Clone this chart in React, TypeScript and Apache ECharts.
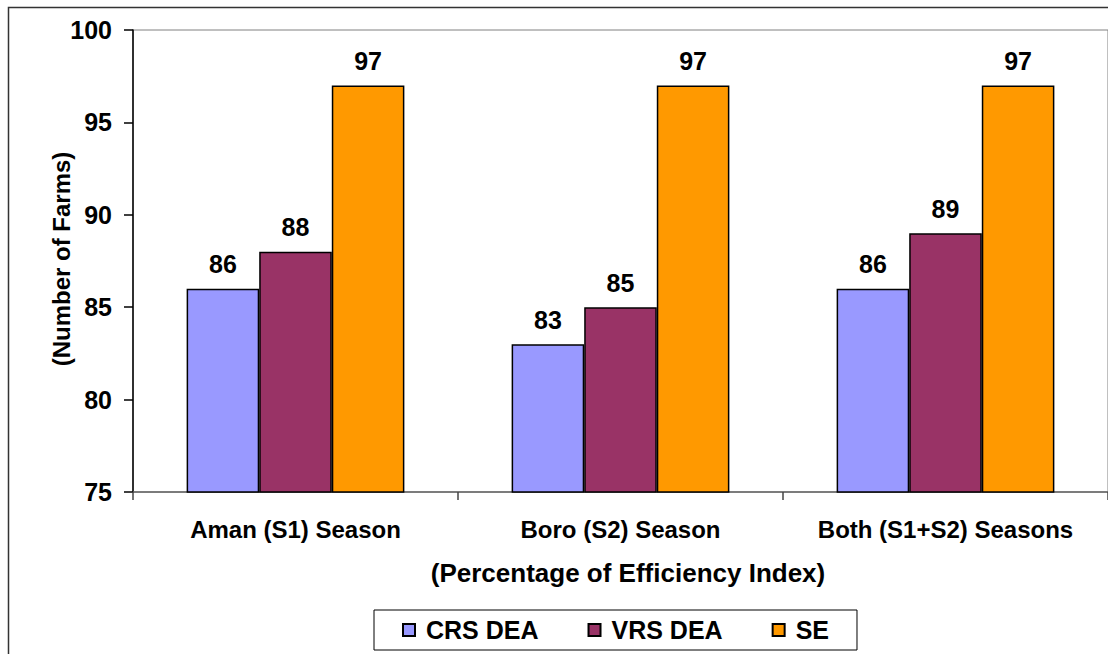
import React, { useEffect, useRef } from "react";
import * as echarts from "echarts";

const categories = ["Aman (S1) Season", "Boro (S2) Season", "Both (S1+S2) Seasons"];
const crsDea = [86, 83, 86];
const vrsDea = [88, 85, 89];
const se = [97, 97, 97];
const seriesNames = ["CRS DEA", "VRS DEA", "SE"];
const seriesColors = ["#9999FF", "#993366", "#FF9900"];
const yTitle = "(Number of Farms)";
const xTitle = "(Percentage of Efficiency Index)";

const FONT = '"Liberation Sans", Arial, Helvetica, sans-serif';

export default function App() {
  const ref = useRef<HTMLDivElement>(null);
  useEffect(() => {
    if (!ref.current) return;
    const chart = echarts.init(ref.current, null, { renderer: "svg" });
    const data = [crsDea, vrsDea, se];
    chart.setOption({
      animation: false,
      backgroundColor: "#fff",
      textStyle: { fontFamily: FONT },
      grid: {
        left: 133,
        top: 30,
        right: -2,
        bottom: 162,
        show: true,
        borderColor: "#808080",
        borderWidth: 1,
        backgroundColor: "transparent",
      },
      xAxis: {
        type: "category",
        data: categories,
        axisLine: { show: true, lineStyle: { color: "#666", width: 1.5 } },
        axisTick: { show: true, alignWithLabel: false, length: 8, lineStyle: { color: "#444", width: 1.5 } },
        axisLabel: {
          interval: 0,
          fontFamily: FONT,
          fontWeight: "bold",
          fontSize: 24,
          color: "#000",
          margin: 25,
        },
      },
      yAxis: {
        type: "value",
        min: 75,
        max: 100,
        interval: 5,
        axisLine: { show: true, lineStyle: { color: "#000", width: 1.5 } },
        axisTick: { show: true, length: 9, lineStyle: { color: "#000", width: 1.5 } },
        splitLine: { show: false },
        axisLabel: {
          fontFamily: FONT,
          fontWeight: "bold",
          fontSize: 25,
          color: "#000",
          margin: 21,
        },
      },
      legend: {
        show: true,
        left: 374,
        top: 610,
        orient: "horizontal",
        data: seriesNames,
        icon: "rect",
        itemWidth: 12,
        itemHeight: 12,
        itemGap: 49,
        padding: [7, 28, 7, 28],
        borderColor: "#000",
        borderWidth: 1,
        backgroundColor: "#fff",
        textStyle: {
          fontFamily: FONT,
          fontWeight: "bold",
          fontSize: 25,
          color: "#000",
          lineHeight: 26,
          padding: [0, 0, 0, 6],
        },
      },
      graphic: [
        {
          type: "rect",
          shape: { x: 8.5, y: 7.5, width: 1400, height: 900 },
          style: { fill: "none", stroke: "#333", lineWidth: 1.5 },
          silent: true,
        },
        {
          type: "text",
          x: 61,
          y: 259,
          rotation: Math.PI / 2,
          style: {
            text: yTitle,
            align: "center",
            verticalAlign: "middle",
            font: `bold 24px ${FONT}`,
            fill: "#000",
          },
        },
        {
          type: "text",
          x: 628,
          y: 573,
          style: {
            text: xTitle,
            align: "center",
            verticalAlign: "middle",
            font: `bold 26px ${FONT}`,
            fill: "#000",
          },
        },
      ],
      series: seriesNames.map((name, i) => ({
        name,
        type: "bar",
        data: data[i],
        barGap: "0%",
        barCategoryGap: "33%",
        itemStyle: { color: seriesColors[i], borderColor: "#000", borderWidth: 1.5 },
        label: {
          show: true,
          position: "top",
          distance: 12,
          fontFamily: FONT,
          fontWeight: "bold",
          fontSize: 25,
          color: "#000",
        },
      })),
    });
    return () => chart.dispose();
  }, []);
  return (
    <div
      ref={ref}
      style={{ position: "fixed", left: 0, top: 0, width: 1108, height: 654, background: "#fff" }}
    />
  );
}
